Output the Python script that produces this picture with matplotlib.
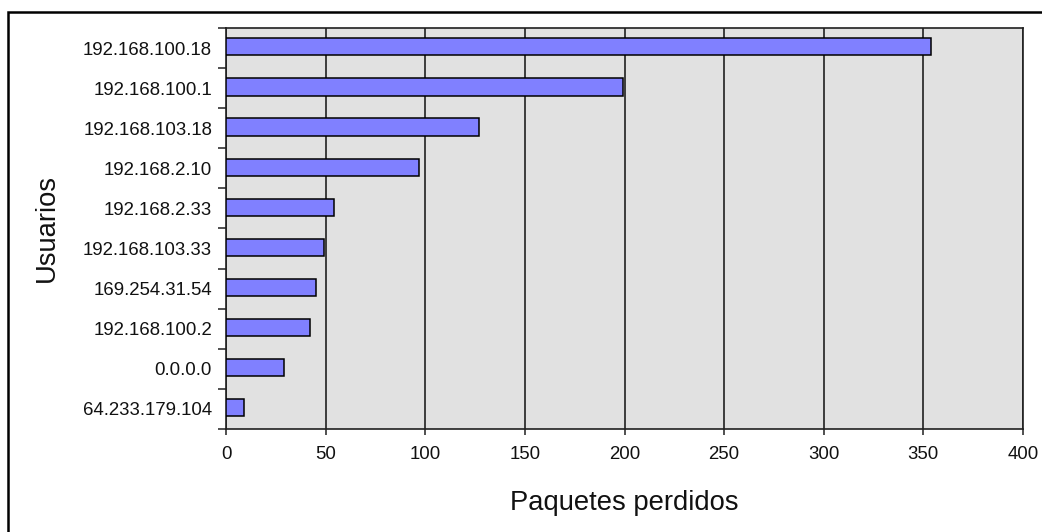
import matplotlib
matplotlib.use("Agg")
import matplotlib.pyplot as plt
from matplotlib.patches import Rectangle

usuarios = ["192.168.100.18", "192.168.100.1", "192.168.103.18", "192.168.2.10",
            "192.168.2.33", "192.168.103.33", "169.254.31.54", "192.168.100.2",
            "0.0.0.0", "64.233.179.104"]
paquetes = [354, 199, 127, 97, 54, 49, 45, 42, 29, 9]
x_ticks = [0, 50, 100, 150, 200, 250, 300, 350, 400]

plt.rcParams["font.family"] = ["Liberation Sans", "DejaVu Sans"]

W, H = 1042, 532
fig = plt.figure(figsize=(W / 100, H / 100), dpi=100)
fig.patch.set_facecolor("white")

# outer frame around the whole chart
fig.patches.append(Rectangle((8 / W, -0.05), 1.1, (H - 12) / H + 0.05,
                             transform=fig.transFigure, fill=False,
                             edgecolor="black", linewidth=1.8))

ax = fig.add_axes([226 / W, 1 - 429 / H, (1023 - 226) / W, (429 - 28) / H])
ax.set_facecolor("#e1e1e1")

pos = list(range(len(usuarios)))
ax.barh([p - 0.03 for p in pos], paquetes, height=0.43, color="#8080ff",
        edgecolor="black", linewidth=1.1, zorder=3)

ax.set_xlim(0, 400)
ax.set_ylim(len(usuarios) - 0.5, -0.5)

ax.set_xticks(x_ticks)
ax.set_xticklabels([str(v) for v in x_ticks])
ax.grid(axis="x", color="#202020", linewidth=1.2, zorder=1)
ax.grid(axis="y", visible=False)

ax.set_yticks(pos)
ax.set_yticklabels(usuarios)
ax.set_yticks([p - 0.5 for p in pos] + [len(usuarios) - 0.5], minor=True)

ax.tick_params(axis="x", direction="out", length=4, width=1.1, color="#202020",
               labelsize=13.4, pad=8, labelcolor="#111111")
ax.tick_params(axis="y", which="major", length=0, labelsize=13.4, pad=10,
               labelcolor="#111111")
ax.tick_params(axis="y", which="minor", direction="out", length=6, width=1.1,
               color="#202020")

for s in ax.spines.values():
    s.set_color("#202020")
    s.set_linewidth(1.2)

ax.set_xlabel("Paquetes perdidos", fontsize=19.7, labelpad=20, color="#111111")
ax.set_ylabel("Usuarios", fontsize=19.7, labelpad=17, color="#111111")

fig.savefig("out.png", dpi=100)
